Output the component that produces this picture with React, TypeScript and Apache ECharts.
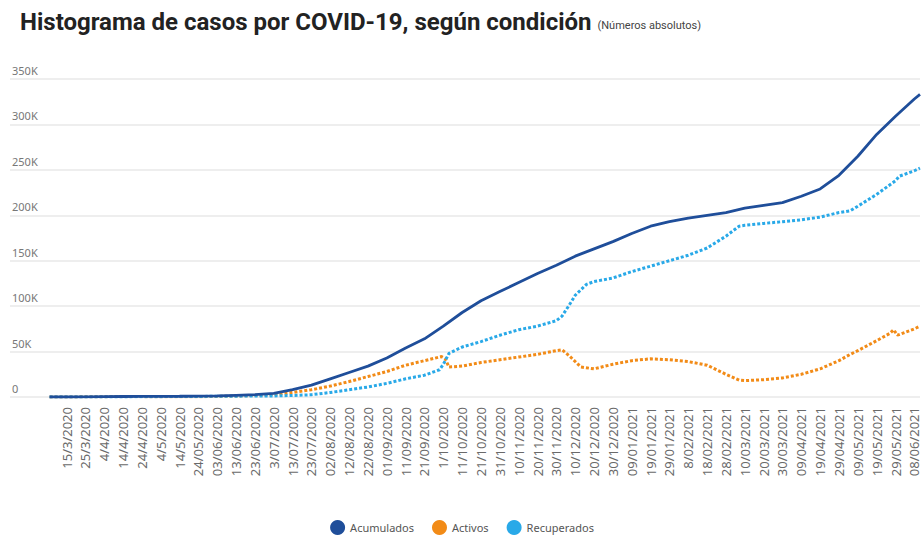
import React, { useEffect, useRef } from 'react';
import * as echarts from 'echarts';

// Day index 0 = 6/3/2020 (daily axis); ticks every 10 days starting at day 9
const tickLabels = [
  '15/3/2020', '25/3/2020', '4/4/2020', '14/4/2020', '24/4/2020', '4/5/2020', '14/5/2020',
  '24/05/2020', '03/06/2020', '13/06/2020', '23/06/2020', '3/07/2020', '13/07/2020', '23/07/2020',
  '02/08/2020', '12/08/2020', '22/08/2020', '01/09/2020', '11/09/2020', '21/09/2020', '1/10/2020',
  '11/10/2020', '21/10/2020', '31/10/2020', '10/11/2020', '20/11/2020', '30/11/2020', '10/12/2020',
  '20/12/2020', '30/12/2020', '09/01/2021', '19/01/2021', '29/01/2021', '8/02/2021', '18/02/2021',
  '28/02/2021', '10/03/2021', '20/03/2021', '30/03/2021', '09/04/2021', '19/04/2021', '29/04/2021',
  '09/05/2021', '19/05/2021', '29/05/2021', '08/06/2021',
];

const yTicks = [0, 50000, 100000, 150000, 200000, 250000, 300000, 350000];

// [day index, value]
const acumulados: [number, number][] = [
  [0, 0], [9, 27], [19, 201], [29, 435], [39, 577], [49, 687], [59, 742], [69, 830], [79, 930],
  [89, 1263], [99, 1871], [109, 2515], [119, 4000], [129, 8000], [139, 13000], [149, 20000],
  [159, 27000], [169, 34000], [179, 43000], [189, 54000], [199, 64000], [209, 78000], [219, 93000],
  [229, 106000], [239, 116000], [249, 126000], [259, 136000], [269, 145000], [279, 155000],
  [289, 163000], [299, 171000], [309, 180000], [319, 188000], [329, 193000], [339, 197000],
  [349, 200000], [359, 203000], [369, 208000], [379, 211000], [389, 214000], [399, 221000],
  [409, 229000], [419, 244000], [429, 265000], [439, 289000], [449, 309000], [459, 328000], [462, 333000],
];

const activos: [number, number][] = [
  [0, 0], [9, 27], [19, 195], [29, 400], [39, 470], [49, 420], [59, 280], [69, 260], [79, 300],
  [89, 590], [99, 1100], [109, 1700], [119, 2700], [129, 5000], [139, 8000], [149, 12000],
  [159, 17000], [169, 22500], [179, 28000], [189, 35000], [199, 40000], [208, 44500], [210, 42000],
  [212, 33000], [219, 34000], [229, 38000], [239, 41000], [249, 44000], [259, 47000], [269, 51000],
  [272, 52000], [276, 45000], [282, 33000], [289, 31000], [299, 36000], [309, 40000], [319, 42000],
  [329, 41000], [339, 39000], [349, 35000], [359, 25000], [366, 18500], [369, 18000], [379, 19000],
  [389, 21000], [399, 25000], [409, 31000], [419, 40000], [425, 47000], [429, 51000], [439, 62000],
  [446, 70000], [448, 74000], [450, 68000], [459, 75000], [462, 78000],
];

const recuperados: [number, number][] = [
  [0, 0], [9, 0], [19, 3], [29, 33], [39, 96], [49, 212], [59, 400], [69, 510], [79, 630],
  [89, 750], [99, 900], [109, 1100], [119, 1200], [129, 1700], [139, 2500], [149, 5000],
  [159, 8000], [169, 11000], [179, 15000], [189, 20000], [199, 24000], [207, 30000], [209, 36000],
  [212, 48000], [219, 55000], [229, 61000], [239, 68000], [249, 74000], [259, 78000], [269, 84000],
  [272, 89000], [277, 105000], [279, 112000], [285, 124000], [289, 127000], [299, 131000],
  [309, 138000], [319, 144000], [329, 150000], [339, 156000], [349, 164000], [359, 177000],
  [366, 188000], [369, 189000], [379, 191000], [389, 193000], [399, 195000], [409, 198000],
  [419, 203000], [425, 205000], [429, 210000], [439, 223000], [449, 238000], [451, 243000],
  [459, 249000], [462, 252000],
];

export default function App() {
  const ref = useRef<HTMLDivElement>(null);
  useEffect(() => {
    document.body.style.margin = '0';
    if (!ref.current) return;
    const chart = echarts.init(ref.current, undefined, { renderer: 'svg' });
    const tickValues = tickLabels.map((_, k) => 9 + 10 * k);
    chart.setOption({
      animation: false,
      backgroundColor: '#ffffff',
      title: {
        text: 'Histograma de casos por COVID-19, según condición {s|(Números absolutos)}',
        left: 15,
        top: 5,
        textStyle: {
          fontFamily: 'Roboto',
          fontWeight: 'bold',
          fontSize: 24,
          color: '#222222',
          rich: {
            s: { fontFamily: 'Roboto', fontSize: 11, color: '#444444', fontWeight: 'normal', padding: [7, 0, 0, 0] },
          },
        },
      },
      legend: {
        bottom: -2,
        left: 'center',
        icon: 'circle',
        itemWidth: 15,
        itemHeight: 15,
        itemGap: 18,
        textStyle: { fontFamily: 'Noto Sans', fontSize: 11, color: '#555555' },
        data: ['Acumulados', 'Activos', 'Recuperados'],
      },
      grid: { left: 10, right: 4, top: 79, bottom: 141, outerBoundsMode: 'none' },
      xAxis: {
        type: 'value',
        min: -21,
        max: 462,
        splitLine: { show: false },
        axisLine: { show: false },
        axisTick: { show: false },
        axisLabel: {
          customValues: tickValues,
          rotate: 90,
          margin: 10,
          fontFamily: 'Noto Sans',
          fontSize: 13,
          color: '#6a6a6a',
          formatter: (v: number) => tickLabels[Math.round((v - 9) / 10)] ?? '',
        },
      },
      yAxis: {
        type: 'value',
        min: 0,
        max: 350000,
        interval: 50000,
        axisLine: { show: false },
        axisTick: { show: false },
        splitLine: { lineStyle: { color: '#e8e8e8', width: 1.5 } },
        axisLabel: {
          inside: true,
          margin: 2,
          align: 'left',
          verticalAlign: 'bottom',
          padding: [0, 0, 3, 0],
          fontFamily: 'Noto Sans',
          fontSize: 11,
          color: '#777777',
          formatter: (v: number) => (yTicks.includes(v) ? (v === 0 ? '0' : v / 1000 + 'K') : ''),
        },
      },
      series: [
        {
          name: 'Acumulados',
          type: 'line',
          data: acumulados,
          showSymbol: false,
          symbol: 'circle',
          color: '#1f4e9a',
          lineStyle: { color: '#1f4e9a', width: 2.8 },
          z: 3,
        },
        {
          name: 'Activos',
          type: 'line',
          data: activos,
          showSymbol: false,
          symbol: 'circle',
          color: '#f28b17',
          lineStyle: { color: '#f28b17', width: 3, type: [3, 2] },
          z: 2,
        },
        {
          name: 'Recuperados',
          type: 'line',
          data: recuperados,
          showSymbol: false,
          symbol: 'circle',
          color: '#29a9e8',
          lineStyle: { color: '#29a9e8', width: 3, type: [3, 2] },
          z: 2,
        },
      ],
    });
    return () => chart.dispose();
  }, []);
  return <div ref={ref} style={{ position: 'fixed', left: 0, top: 0, width: 924, height: 538 }} />;
}
